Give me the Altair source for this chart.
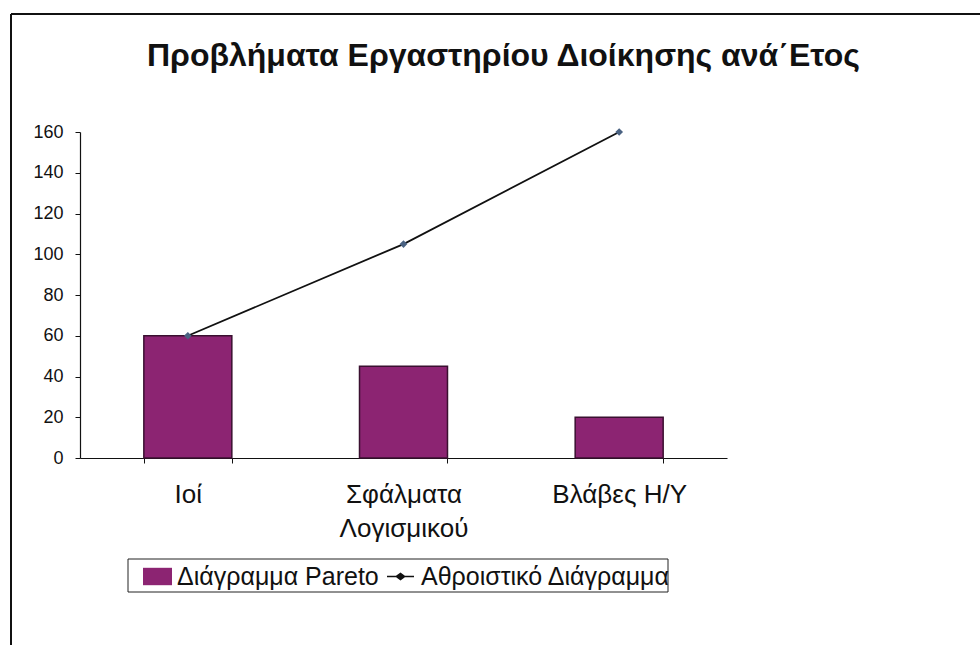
import altair as alt
import pandas as pd

# Chart data
categories = ["Ιοί", "Σφάλματα Λογισμικού", "Βλάβες Η/Υ"]
pareto_values = [60, 45, 20]
cumulative_values = [60, 105, 160]
y_ticks = [0, 20, 40, 60, 80, 100, 120, 140, 160]

bar_series = "Διάγραμμα Pareto"
line_series = "Αθροιστικό Διάγραμμα"
title_text = "Προβλήματα Εργαστηρίου Διοίκησης ανά΄Ετος"

df = pd.DataFrame({
    "category": categories,
    "pareto": pareto_values,
    "cumulative": cumulative_values,
    "bar_series": [bar_series] * len(categories),
    "line_series": [line_series] * len(categories),
})

FONT = "Liberation Sans"
BAR_COLOR = "#8c2472"

x_enc = alt.X(
    "category:N",
    sort=categories,
    title=None,
    scale=alt.Scale(paddingInner=0.592, paddingOuter=0.296),
    axis=alt.Axis(
        labelAngle=0,
        labelFont=FONT,
        labelFontSize=26,
        labelColor="#111111",
        labelLineHeight=34,
        labelBaseline="top",
        labelPadding=18,
        labelLimit=400,
        labelExpr="indexof(datum.label, 'Λογισμικού') >= 0 ? split(datum.label, ' ') : datum.label",
        tickBand="extent",
        tickSize=5,
        tickColor="#111111",
        domainColor="#111111",
        domainWidth=1.2,
    ),
)

y_scale = alt.Scale(domain=[0, 160], nice=False)
y_axis = alt.Axis(
    values=y_ticks,
    title=None,
    grid=False,
    labelFont=FONT,
    labelFontSize=18,
    labelColor="#111111",
    labelPadding=12,
    tickSize=5,
    tickColor="#111111",
    domainColor="#111111",
    domainWidth=1.2,
)

bars = alt.Chart(df).mark_bar(stroke="#3a1030", strokeWidth=1.5).encode(
    x=x_enc,
    y=alt.Y("pareto:Q", scale=y_scale, axis=y_axis),
    fill=alt.Fill(
        "bar_series:N",
        scale=alt.Scale(domain=[bar_series], range=[BAR_COLOR]),
        legend=alt.Legend(
            title=None,
            orient="none",
            legendX=63,
            legendY=430,
            padding=0,
            symbolType="M-1,-0.6H1V0.6H-1Z",
            symbolSize=841,
            symbolStrokeWidth=0,
            symbolOpacity=1,
            labelFont=FONT,
            labelFontSize=25,
            labelColor="#111111",
            labelOffset=5,
            labelLimit=400,
        ),
    ),
)

line = alt.Chart(df).mark_line(strokeWidth=1.8).encode(
    x=alt.X("category:N", sort=categories),
    y=alt.Y("cumulative:Q", scale=y_scale),
    stroke=alt.Stroke(
        "line_series:N",
        scale=alt.Scale(domain=[line_series], range=["#111111"]),
        legend=alt.Legend(
            title=None,
            orient="none",
            legendX=306,
            legendY=430,
            padding=0,
            symbolType="M-1,0H1M-0.3,0L0,-0.22L0.3,0L0,0.22Z",
            symbolSize=729,
            symbolStrokeWidth=1.6,
            symbolFillColor="#111111",
            labelFont=FONT,
            labelFontSize=25,
            labelColor="#111111",
            labelOffset=6,
            labelLimit=400,
        ),
    ),
)

points = alt.Chart(df).mark_point(
    shape="diamond", filled=True, size=60, color="#4a6282", opacity=1
).encode(
    x=alt.X("category:N", sort=categories),
    y=alt.Y("cumulative:Q", scale=y_scale),
)

# Decorations: page frame (left and top edges) and the legend box
frame_df = pd.DataFrame({"k": [0]})
frame_left = alt.Chart(frame_df).mark_rule(color="#111111", strokeWidth=2).encode(
    x=alt.value(-69), y=alt.value(-118), y2=alt.value(513)
)
frame_top = alt.Chart(frame_df).mark_rule(color="#111111", strokeWidth=2).encode(
    x=alt.value(-69), x2=alt.value(900), y=alt.value(-118)
)
legend_box = alt.Chart(frame_df).mark_rect(
    fill="transparent", stroke="#222222", strokeWidth=1
).encode(
    x=alt.value(48), x2=alt.value(588), y=alt.value(427), y2=alt.value(460)
)

chart = alt.layer(bars, line, points, frame_left, frame_top, legend_box).properties(
    width=647,
    height=326,
    padding={"left": 80, "top": 132, "right": 253, "bottom": 187},
    autosize="none",
    title=alt.TitleParams(
        title_text,
        anchor="start",
        dx=137,
        offset=0,
        dy=85,
        baseline="alphabetic",
        font=FONT,
        fontSize=32,
        fontWeight="bold",
        color="#111111",
    ),
    background="white",
).resolve_scale(
    fill="independent", stroke="independent"
).configure_view(stroke=None)

chart.save("out.html", embed_options={"renderer": "svg", "actions": False})
